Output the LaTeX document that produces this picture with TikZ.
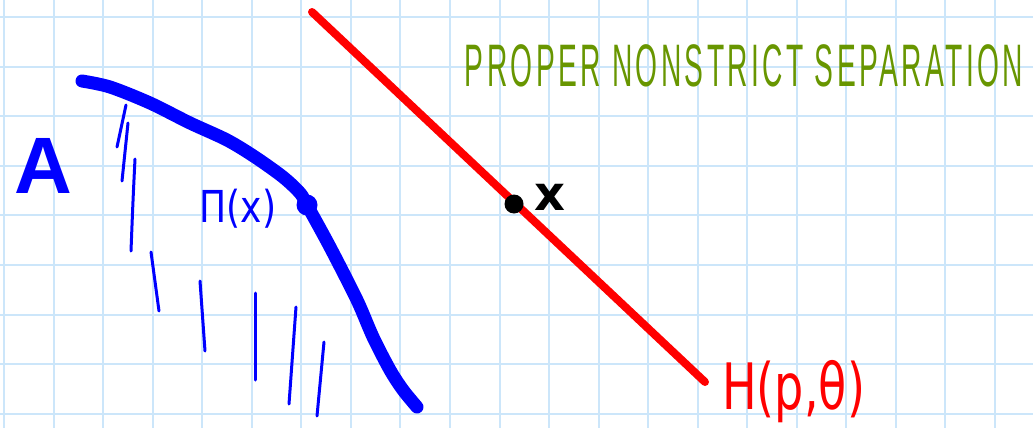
\documentclass[tikz,border=0pt]{standalone}
\usepackage{fontspec}
\setmainfont{Liberation Sans}
\newfontfamily\dejavu{DejaVu Sans}
\newfontfamily\spaced[LetterSpace=12]{Liberation Sans}
\definecolor{gridc}{RGB}{204,230,250}
\definecolor{penblue}{RGB}{0,0,255}
\definecolor{penred}{RGB}{255,0,0}
\definecolor{pengreen}{RGB}{104,150,0}
\tikzset{
  gridline/.style={draw=gridc, line width=1pt},
  thickpen/.style={line width=6.5pt, line cap=round, line join=round},
  thinpen/.style={penblue, line width=1.5pt, line cap=round},
}
\begin{document}
\begin{tikzpicture}[x=0.5pt, y=-0.5pt]
\useasboundingbox (0,0) rectangle (1033,428);
\fill[white] (0,0) rectangle (1033,428);
% grid
\foreach \k in {0,...,20} {\draw[gridline] ({4+49.55*\k},0) -- ({4+49.55*\k},428);}
\foreach \k in {0,...,8} {\draw[gridline] (0,{17+49.6*\k}) -- (1033,{17+49.6*\k});}
% set A boundary
\draw[thickpen, penblue] plot[smooth, tension=0.5] coordinates {(82,81) (110,87) (150,103) (190,123) (227,140) (255,157) (283,177) (300,193) (307,205) (330,247) (357,300) (373,337) (390,370) (403,390) (417,407)};
% hatching
\draw[thinpen] (126,105) -- (117,147);
\draw[thinpen] (128,123) -- (122,181);
\draw[thinpen] (135,159) .. controls (133,200) .. (131,251);
\draw[thinpen] (151,252) -- (159,311);
\draw[thinpen] (200,281) -- (205,351);
\draw[thinpen] (255,293) -- (255,380);
\draw[thinpen] (296,307) -- (289,404);
\draw[thinpen] (324,342) -- (317,416);
% projection point
\coordinate (pix) at (307,205);
\fill[penblue] (pix) circle (10.5);
% label A
\node[penblue, font=\fontsize{40}{40}\selectfont\bfseries, inner sep=0pt] (labA) at (43,166) {A};
% label Pi(x)
\node[penblue, font=\dejavu\fontsize{22}{22}\selectfont, inner sep=0pt, xscale=0.82, transform shape] (labPi) at (238,209) {Π(x)};
% hyperplane
\coordinate (h1) at (312,12);
\coordinate (h2) at (705,382);
\draw[penred, line width=4pt, line cap=round] (h1) -- (h2);
% point x and its label
\coordinate (xpt) at (514,204);
\fill[black] (xpt) circle (9.5);
\node[black, font=\dejavu\bfseries\fontsize{24}{24}\selectfont, inner sep=0pt] (labx) at (550,197) {x};
% label H(p,theta)
\node[penred, font=\dejavu\fontsize{32}{32}\selectfont, inner sep=0pt, xscale=0.72, transform shape, anchor=west] (labH) at (722,392) {H(p,θ)};
% title
\node[pengreen, font=\spaced\fontsize{30}{30}\selectfont, inner sep=0pt, xscale=0.47, transform shape] (title) at (744,66) {PROPER NONSTRICT SEPARATION};
\end{tikzpicture}
\end{document}
